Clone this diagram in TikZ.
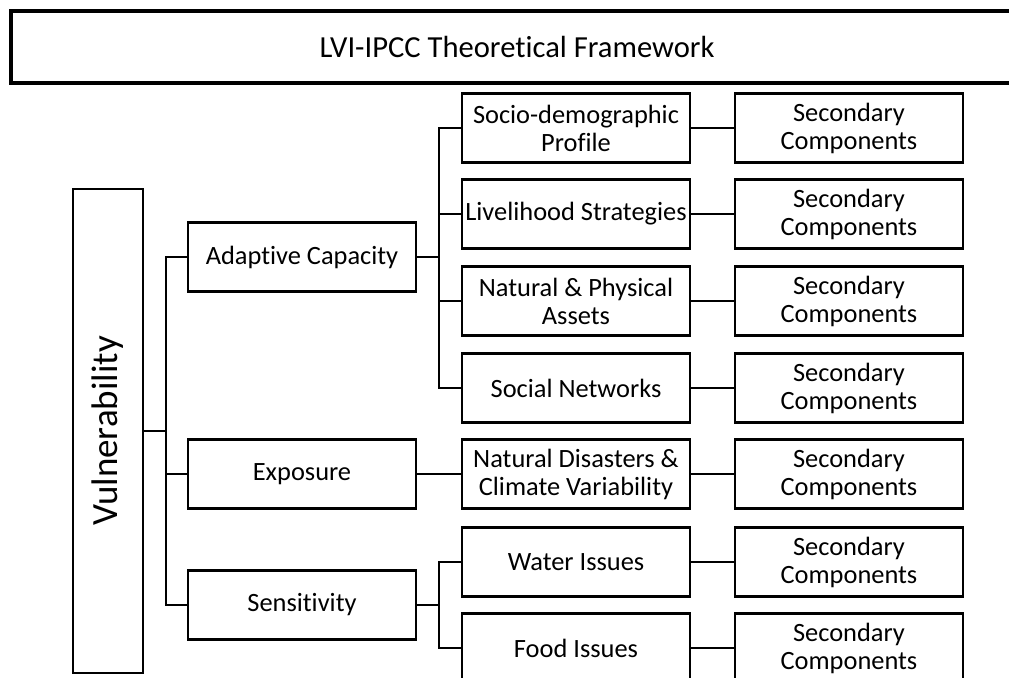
\documentclass[tikz,border=0pt]{standalone}
\usepackage{fontspec}
\setmainfont{Carlito}[RawFeature=-liga]
\usetikzlibrary{positioning,calc}

\begin{document}
\begin{tikzpicture}[x=0.5pt, y=-0.5pt,
  box/.style={draw, line width=1.2pt, minimum width=114pt, minimum height=34.5pt, inner sep=1pt, align=center, font=\fontsize{13.2}{14}\selectfont},
  link/.style={line width=1.2pt}]
\useasboundingbox (0,0) rectangle (1009,678);
\clip (0,0) rectangle (1009,678);
\node[draw, line width=1.6pt, minimum width=506pt, minimum height=36pt, font=\fontsize{15.3}{18}\selectfont] (title) at (517,47) {LVI-IPCC Theoretical Framework};
\node[draw, line width=1.2pt, rotate=90, minimum width=242pt, minimum height=35pt, inner sep=0pt, font=\fontsize{18.5}{22}\selectfont] (vuln) at (108,431) {Vulnerability};
\node[box] (adapt) at (302,257) {Adaptive Capacity};
\node[box] (expo) at (302,474) {Exposure};
\node[box] (sens) at (302,605) {Sensitivity};
\node[box] (socio) at (576,128) {Socio-demographic\\Profile};
\node[box] (liveli) at (576,214) {Livelihood Strategies};
\node[box] (natphys) at (576,301) {Natural \& Physical\\Assets};
\node[box] (social) at (576,388) {Social Networks};
\node[box] (natdis) at (576,474) {Natural Disasters \&\\Climate Variability};
\node[box] (water) at (576,562) {Water Issues};
\node[box] (food) at (576,648) {Food Issues};
\coordinate (colC) at (849,0);
\foreach \m in {socio,liveli,natphys,social,natdis,water,food}{
  \node[box] (sec-\m) at (\m -| colC) {Secondary\\Components};
  \draw[link] (\m) -- (sec-\m);
}
\coordinate (jA) at (166,431);
\coordinate (jB) at (439,257);
\coordinate (jC) at (439,605);
\draw[link] (vuln) -- (jA);
\draw[link] (adapt.west) -| (jA) |- (sens.west);
\draw[link] (jA |- expo.west) -- (expo.west);
\draw[link] (adapt) -- (jB);
\draw[link] (socio.west) -| (jB) |- (social.west);
\draw[link] (jB |- liveli.west) -- (liveli.west);
\draw[link] (jB |- natphys.west) -- (natphys.west);
\draw[link] (expo) -- (natdis);
\draw[link] (sens) -- (jC);
\draw[link] (water.west) -| (jC) |- (food.west);
\end{tikzpicture}
\end{document}
